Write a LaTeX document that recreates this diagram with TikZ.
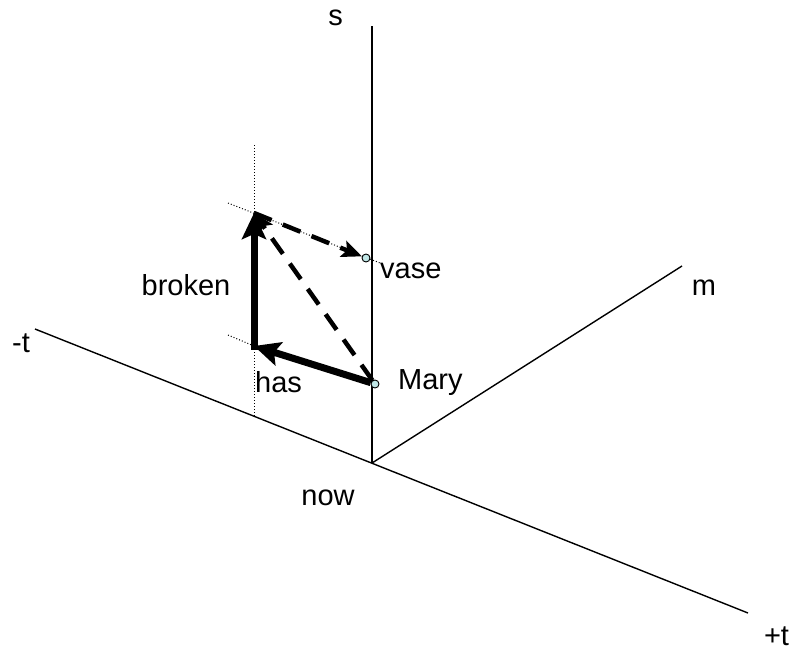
\documentclass[tikz,border=0pt]{standalone}
\usepackage{fontspec}
\setmainfont{Liberation Sans}
\usetikzlibrary{arrows.meta}
\definecolor{dotfill}{HTML}{BFE6E6}
\begin{document}
\begin{tikzpicture}[x=1pt,y=-1pt,
  axis/.style={line width=1.4pt},
  guide/.style={line width=1pt,dotted},
  thickarrow/.style={line width=7pt,-{Stealth[length=26pt,width=24pt,inset=5pt]}},
  dasharrow/.style={line width=4.5pt,dash pattern=on 19pt off 12pt,-{Stealth[length=20pt,width=17pt,inset=4pt]}},
  pt/.style={circle,draw,fill=dotfill,inner sep=0pt,minimum size=8pt,line width=0.9pt},
  lbl/.style={inner sep=0pt,font=\fontsize{29}{34}\selectfont}]
\useasboundingbox (0,0) rectangle (796,657);
% axes
\coordinate (O) at (372,463);
\coordinate (sTop) at (372,26);
\coordinate (tL) at (35,329);
\coordinate (tR) at (748,613);
\coordinate (mEnd) at (682,266);
\draw[axis] (O) -- (sTop);
\draw[axis] (tL) -- (tR);
\draw[axis] (O) -- (mEnd);
% guide lines
\coordinate (P) at (254,213);
\coordinate (Q) at (254,346);
\coordinate (gTop) at (254,145);
\coordinate (gBot) at (254,417);
\coordinate (g1a) at (228,203);
\coordinate (g1b) at (380,263);
\coordinate (g2a) at (228,335);
\draw[guide] (gTop) -- (gBot);
\draw[guide] (g1a) -- (g1b);
\draw[guide] (g2a) -- (Q);
% points
\node[pt] (mary) at (375,384) {};
\node[pt] (vase) at (366,258) {};
% arrows
\draw[thickarrow] (mary) -- (Q);
\draw[thickarrow,shorten <=-3.5pt] (Q) -- (P);
\draw[dasharrow] (mary) -- (P);
\draw[dasharrow] (P) -- (vase);
% labels
\node[lbl,anchor=base] (ls) at (335.5,25) {s};
\node[lbl,anchor=base] (lmt) at (21,352) {-t};
\node[lbl,anchor=base] (lm) at (704,295) {m};
\node[lbl,anchor=base] (lpt) at (776.5,645) {+t};
\node[lbl,anchor=base] (lnow) at (328,505) {now};
\node[lbl,anchor=base] (lbroken) at (186,295) {broken};
\node[lbl,anchor=base west] (lvase) at (380,278) {vase};
\node[lbl,anchor=base west] (lhas) at (255,392) {has};
\node[lbl,anchor=base west] (lmary) at (398,389) {Mary};
\end{tikzpicture}
\end{document}
